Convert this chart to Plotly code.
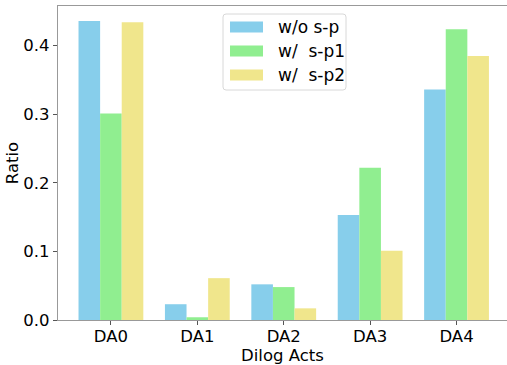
import plotly.graph_objects as go

categories = ["DA0", "DA1", "DA2", "DA3", "DA4"]
series_names = ["w/o s-p", "w/\u00a0 s-p1", "w/\u00a0 s-p2"]
wo_sp = [0.436, 0.023, 0.052, 0.153, 0.336]
w_sp1 = [0.301, 0.004, 0.048, 0.222, 0.424]
w_sp2 = [0.434, 0.061, 0.017, 0.101, 0.385]
colors = ["#87CEEB", "#90EE90", "#F0E68C"]
y_ticks = [0.0, 0.1, 0.2, 0.3, 0.4]

FONT = "DejaVu Sans"
FS = 16.5
W, H = 507, 365
L, R, T, B = 58, 0, 6, 45
PW, PH = W - L - R, H - T - B

def px(x):
    return (x - L) / PW

def py(y):
    return 1 - (y - T) / PH

fig = go.Figure()
xs = list(range(len(categories)))
for name, vals, c in zip(series_names, [wo_sp, w_sp1, w_sp2], colors):
    fig.add_trace(go.Bar(x=xs, y=vals, name=name, marker=dict(color=c, line=dict(width=0)),
                         showlegend=False))

# custom legend (matplotlib style)
shapes = []
annotations = []
bx0, bx1, by0, by1, r = 223, 346, 14, 90, 3
path = (f"M {px(bx0+r)},{py(by0)} L {px(bx1-r)},{py(by0)} Q {px(bx1)},{py(by0)} {px(bx1)},{py(by0+r)} "
        f"L {px(bx1)},{py(by1-r)} Q {px(bx1)},{py(by1)} {px(bx1-r)},{py(by1)} "
        f"L {px(bx0+r)},{py(by1)} Q {px(bx0)},{py(by1)} {px(bx0)},{py(by1-r)} "
        f"L {px(bx0)},{py(by0+r)} Q {px(bx0)},{py(by0)} {px(bx0+r)},{py(by0)} Z")
shapes.append(dict(type="path", xref="paper", yref="paper", path=path,
                   fillcolor="rgba(255,255,255,0.8)", line=dict(color="#d8d8d8", width=1)))
row_centers = [27, 51, 75]
for name, c, yc in zip(series_names, colors, row_centers):
    shapes.append(dict(type="rect", xref="paper", yref="paper",
                       x0=px(230), x1=px(263), y0=py(yc - 5.5), y1=py(yc + 5.5),
                       fillcolor=c, line=dict(width=0)))
    annotations.append(dict(xref="paper", yref="paper", x=px(276), y=py(yc), xanchor="left",
                            yanchor="middle", text=name, showarrow=False,
                            font=dict(family=FONT, size=17, color="black")))

fig.update_layout(
    width=W, height=H,
    margin=dict(l=L, r=R, t=T, b=B),
    paper_bgcolor="white", plot_bgcolor="white",
    barmode="group", bargap=0.25, bargroupgap=0,
    font=dict(family=FONT, size=FS, color="black"),
    showlegend=False,
    shapes=shapes, annotations=annotations,
    xaxis=dict(range=[-0.6125, 4.584], tickmode="array", tickvals=xs, ticktext=categories,
               showline=True, linecolor="#999999", linewidth=1.3, mirror=True,
               ticks="outside", ticklen=4, tickcolor="#555555", showgrid=False, zeroline=False,
               ticklabelstandoff=-3,
               title=dict(text="Dilog Acts", standoff=0, font=dict(size=FS))),
    yaxis=dict(range=[0, 0.4578], tickmode="array", tickvals=y_ticks,
               ticktext=[f"{v:.1f}" for v in y_ticks],
               showline=True, linecolor="#999999", linewidth=1.3,
               ticks="outside", ticklen=4, tickcolor="#555555", showgrid=False, zeroline=False,
               title=dict(text="Ratio", standoff=0, font=dict(size=FS))),
)
fig.write_html("out.html", config={"displayModeBar": False},
               post_script="document.body.style.margin='0';document.body.style.overflow='hidden';")
